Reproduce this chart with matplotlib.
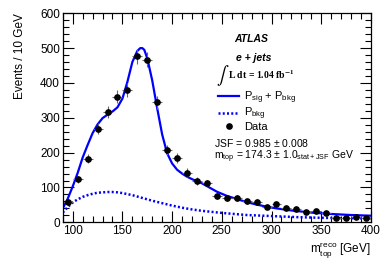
# ATLAS template fit of the reconstructed top mass, e + jets channel

import numpy as np
from matplotlib import pyplot as plt
from matplotlib.lines import Line2D
from matplotlib.ticker import MultipleLocator

plt.rcParams['font.family'] = ['Liberation Sans', 'DejaVu Sans']
plt.rcParams['mathtext.fontset'] = 'custom'
plt.rcParams['mathtext.rm'] = 'Liberation Sans'
plt.rcParams['mathtext.it'] = 'Liberation Sans:italic'

# Data points (bin centres, events per 10 GeV)
mass = np.arange(95, 400, 10)
events = [57, 123, 183, 269, 316, 361, 380, 476, 467, 344,
          207, 184, 143, 119, 112, 76, 71, 71, 60, 59,
          45, 52, 40, 38, 30, 32, 27, 12, 12, 16, 12]
events_err = np.sqrt(events)

# Fit curve P_sig + P_bkg
fit_x = [90, 95, 100, 105, 110, 115, 120, 125, 130, 135, 140, 145, 150, 155,
         160, 165, 168, 170, 172, 175, 180, 185, 190, 195, 200, 205, 210, 215,
         220, 230, 245, 255, 265, 275, 285, 295, 305, 320, 340, 360, 380, 400]
fit_y = [40, 68, 103, 142, 186, 222, 256, 281, 299, 309, 318, 330, 355, 403,
         460, 492, 500, 500, 495, 471, 407, 327, 252, 198, 169, 151, 140, 131,
         124, 112, 88, 76, 67, 58, 51, 45, 40, 34, 28, 24, 21, 19]

# Background P_bkg
bkg_x = [90, 95, 100, 105, 110, 115, 120, 125, 130, 135, 140, 145, 150, 160,
         170, 180, 190, 200, 210, 220, 230, 250, 275, 300, 325, 350, 375, 400]
bkg_y = [28, 44, 57, 66, 73, 78, 82, 85, 86, 87, 87, 86, 84, 78,
         70, 62, 55, 48, 42, 37, 33, 27, 21, 18, 15, 13, 12, 11]

fig = plt.figure(figsize=(3.9, 2.65), dpi=100)
ax = fig.add_axes([0.161, 0.161, 0.79, 0.789])

ax.plot(fit_x, fit_y, color='#0000ff', lw=1.6)
ax.plot(bkg_x, bkg_y, color='#0000ff', lw=1.8, ls=(0, (0.8, 0.9)))
ax.errorbar(mass, events, yerr=events_err, xerr=5, fmt='o', color='black',
            ecolor='0.4', elinewidth=0.8, markersize=3.8, capsize=0)

ax.set_xlim(90, 400)
ax.set_ylim(0, 600)
ax.xaxis.set_major_locator(MultipleLocator(50))
ax.xaxis.set_minor_locator(MultipleLocator(10))
ax.yaxis.set_major_locator(MultipleLocator(100))
ax.yaxis.set_minor_locator(MultipleLocator(20))
ax.tick_params(which='both', direction='in', top=True, right=True, labelsize=8.5, width=0.8)
ax.tick_params(which='major', length=8, pad=2)
ax.tick_params(which='minor', length=4)
for s in ax.spines.values():
    s.set_linewidth(0.9)

ax.set_ylabel('Events / 10 GeV', fontsize=8.5, loc='top')
ax.yaxis.set_label_coords(-0.12, 1.0)
ax.set_xlabel(r'm$_{\mathrm{top}}^{\mathrm{reco}}$ [GeV]', fontsize=8.5, loc='right')
ax.xaxis.set_label_coords(1.0, -0.085)
ax.xaxis.label.set_va('top')

# labels
ax.text(0.611, 0.875, 'ATLAS', transform=ax.transAxes, ha='center', va='center',
        fontsize=7.5, fontweight='bold', fontstyle='italic')
ax.text(0.618, 0.788, 'e + jets', transform=ax.transAxes, ha='center', va='center',
        fontsize=7.5, fontweight='bold', fontstyle='italic')
ax.text(0.496, 0.70, r'$\int$', transform=ax.transAxes, ha='left', va='center',
        fontsize=13, math_fontfamily='stix')
ax.text(0.535, 0.705, r'L dt = 1.04 fb$^{\mathbf{-1}}$', transform=ax.transAxes,
        ha='left', va='center', fontsize=7, fontweight='bold',
        family='Liberation Serif', math_fontfamily='stix')

handles = [Line2D([], [], color='#0000ff', lw=1.6),
           Line2D([], [], color='#0000ff', lw=1.8, ls=(0, (0.8, 0.9))),
           Line2D([], [], color='black', marker='o', ls='none', markersize=3.8)]
labels = [r'P$_{\mathrm{sig}}$ + P$_{\mathrm{bkg}}$', r'P$_{\mathrm{bkg}}$', 'Data']
ax.legend(handles, labels, loc='upper left', bbox_to_anchor=(0.505, 0.635),
          frameon=False, fontsize=8, handlelength=1.9, handletextpad=0.45,
          labelspacing=0.0, borderaxespad=0, borderpad=0)

ax.text(0.491, 0.38, r'JSF = 0.985 $\pm$ 0.008', transform=ax.transAxes,
        ha='left', va='center', fontsize=7.5)
ax.text(0.491, 0.312, r'm$_{\mathrm{top}}$ = 174.3 $\pm$ 1.0$_{\mathrm{stat+JSF}}$ GeV',
        transform=ax.transAxes, ha='left', va='center', fontsize=7.5)

plt.savefig('out.png', dpi=100)
